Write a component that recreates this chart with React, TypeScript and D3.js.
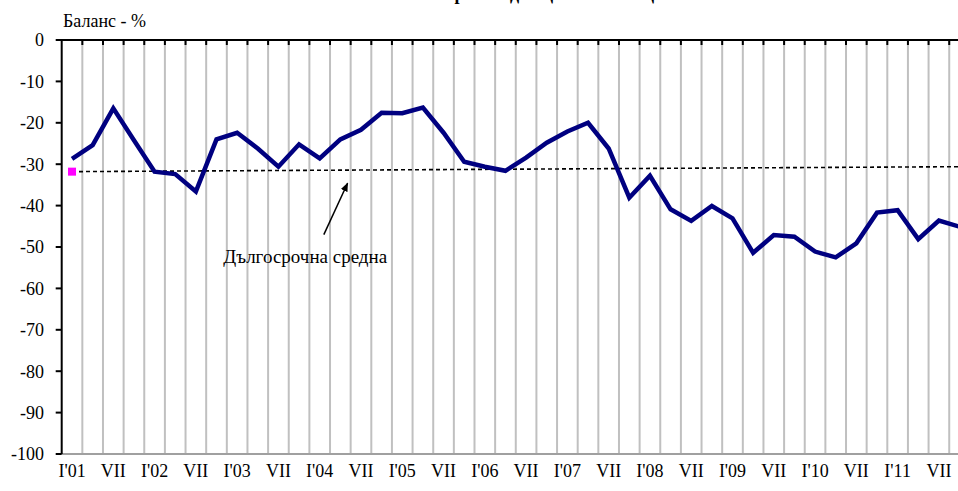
import React from "react";
import * as d3 from "d3";

const categories: string[] = [];
const years = ["01", "02", "03", "04", "05", "06", "07", "08", "09", "10", "11"];
const quarterNames = ["I", "IV", "VII", "X"];
years.forEach((y) => quarterNames.forEach((q) => categories.push(`${q}'${y}`)));

const balanceValues = [
  -28.7, -25.4, -16.5, -24.2, -31.8, -32.4, -36.6, -24.0, -22.4, -26.2, -30.6,
  -25.2, -28.6, -24.0, -21.7, -17.6, -17.7, -16.3, -22.4, -29.4, -30.6, -31.6,
  -28.4, -24.8, -22.1, -20.0, -26.2, -38.1, -32.8, -40.9, -43.7, -40.1, -43.1,
  -51.4, -47.1, -47.5, -51.1, -52.5, -49.1, -41.7, -41.1, -48.1, -43.6, -45.1,
];

const longTermAverage = [-31.8, -30.6]; // first and last category

const xTickLabels = [
  "I'01", "VII", "I'02", "VII", "I'03", "VII", "I'04", "VII", "I'05", "VII", "I'06",
  "VII", "I'07", "VII", "I'08", "VII", "I'09", "VII", "I'10", "VII", "I'11", "VII",
];

const yTicks = [0, -10, -20, -30, -40, -50, -60, -70, -80, -90, -100];

const titleText = "Очаквания през следващите 12 месеца";
const yAxisTitle = "Баланс - %";
const annotationText = "Дългосрочна средна";
// annotation in data coordinates: [category index, value]
const arrowFrom = [12.2, -47.0];
const arrowTo = [13.35, -34.6];
const annotationAt = [11.3, -53.9];

const W = 958;
const H = 491;
const FONT = "'Times New Roman', 'Liberation Serif', serif";

export default function App() {
  const left = 61.7;
  const band = 20.64;
  const x = d3
    .scaleBand<string>()
    .domain(categories)
    .range([left, left + band * categories.length])
    .paddingInner(0)
    .paddingOuter(0);
  const xc = (i: number) => (x(categories[0]) as number) + band / 2 + i * band;
  const y = d3.scaleLinear().domain([-100, 0]).range([454, 40]);

  const line = d3
    .line<number>()
    .x((_, i) => xc(i))
    .y((d) => y(d));

  const avgX0 = xc(0);
  const avgX1 = xc(categories.length - 1);

  const gridXs = categories.map((c) => (x(c) as number) + band);

  return (
    <svg
      width={W}
      height={H}
      style={{ position: "absolute", left: 0, top: 0, overflow: "hidden", background: "#fff" }}
      fontFamily={FONT}
    >
      <rect x={0} y={0} width={W} height={H} fill="#fff" />
      {/* title (mostly cut off, as in the source) */}
      <text x={505} y={0} textAnchor="middle" fontWeight="bold" fontSize={18} fill="#000">
        {titleText}
      </text>
      {/* gridlines */}
      {gridXs.map((gx, i) => (
        <line key={i} x1={gx} x2={gx} y1={y(0)} y2={y(-100)} stroke="#c0c0c0" strokeWidth={2} />
      ))}
      {/* bottom border */}
      <line x1={left} x2={W + 20} y1={y(-100)} y2={y(-100)} stroke="#a0a0a0" strokeWidth={2} />
      {/* top category axis at 0 */}
      <line x1={left} x2={W + 20} y1={y(0)} y2={y(0)} stroke="#000" strokeWidth={2} />
      {gridXs.map((gx, i) => (
        <line key={"t" + i} x1={gx} x2={gx} y1={y(0)} y2={y(0) + 5} stroke="#000" strokeWidth={2} />
      ))}
      {/* y axis */}
      <line x1={left} x2={left} y1={y(0) - 1} y2={y(-100)} stroke="#000" strokeWidth={2} />
      {yTicks.map((t) => (
        <g key={t}>
          <line x1={left - 6} x2={left} y1={y(t)} y2={y(t)} stroke="#000" strokeWidth={2} />
          <text x={44} y={y(t)} dy="0.35em" textAnchor="end" fontSize={18} fill="#000">
            {t}
          </text>
        </g>
      ))}
      <text x={63} y={27} fontSize={18} fill="#000">
        {yAxisTitle}
      </text>
      {/* x labels */}
      {xTickLabels.map((lab, k) => (
        <text key={k} x={xc(k * 2)} y={477} textAnchor="middle" fontSize={18} fill="#000">
          {lab}
        </text>
      ))}
      {/* long-term average */}
      <line
        x1={avgX0}
        x2={avgX1}
        y1={y(longTermAverage[0])}
        y2={y(longTermAverage[1])}
        stroke="#000"
        strokeWidth={1.6}
        strokeDasharray="4,3"
      />
      <rect x={avgX0 - 4} y={y(longTermAverage[0]) - 4} width={8} height={8} fill="#ff00ff" />
      {/* main series */}
      <path d={line(balanceValues) || ""} fill="none" stroke="#000080" strokeWidth={4.5} strokeLinejoin="miter" />
      {/* annotation */}
      <defs>
        <marker id="arr" viewBox="0 0 10 10" refX={9} refY={5} markerWidth={6} markerHeight={6} orient="auto">
          <path d="M0,1 L10,5 L0,9 z" fill="#000" />
        </marker>
      </defs>
      <line
        x1={xc(arrowFrom[0])}
        y1={y(arrowFrom[1])}
        x2={xc(arrowTo[0])}
        y2={y(arrowTo[1])}
        stroke="#000"
        strokeWidth={1.5}
        markerEnd="url(#arr)"
      />
      <text x={xc(annotationAt[0])} y={y(annotationAt[1])} textAnchor="middle" fontSize={19} fill="#000">
        {annotationText}
      </text>
    </svg>
  );
}
